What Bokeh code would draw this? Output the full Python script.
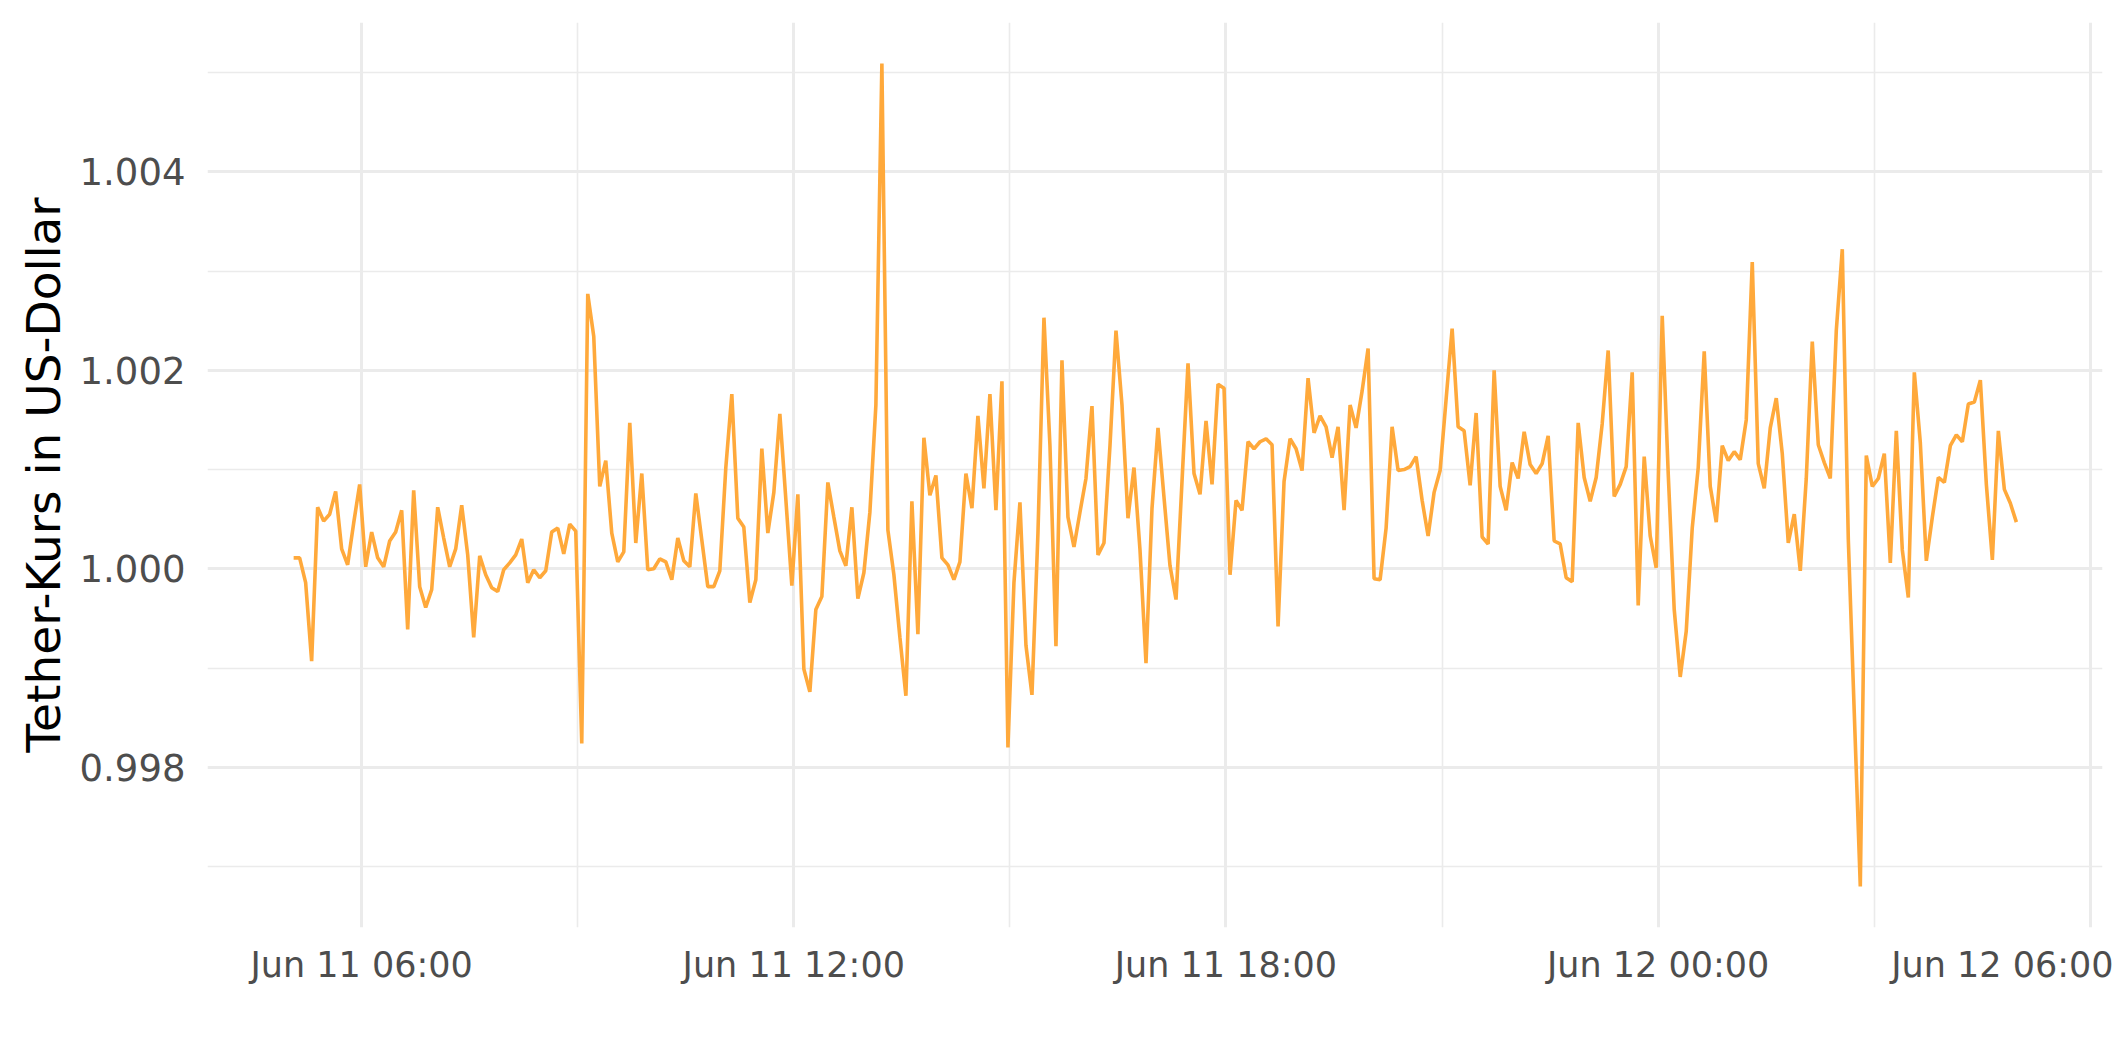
import pandas as pd
from bokeh.plotting import figure
from bokeh.models import Range1d, FixedTicker, DatetimeTickFormatter, PrintfTickFormatter
from bokeh.embed import file_html
from bokeh.resources import INLINE

# ---- data (5-minute Tether price in USD) ----
start_time = "2021-06-11 05:03:24"
interval = "5min"
tether_usd = [
    1.00011, 1.00011, 0.99986, 0.99907, 1.00062, 1.00048, 1.00055, 1.00078, 1.00020, 1.00004,
    1.00046, 1.00085, 1.00002, 1.00037, 1.00011, 1.00002, 1.00028, 1.00037, 1.00059, 0.99939,
    1.00079, 0.99982, 0.99961, 0.99979, 1.00062, 1.00031, 1.00002, 1.00020, 1.00064, 1.00014,
    0.99931, 1.00013, 0.99994, 0.99981, 0.99977, 0.99999, 1.00006, 1.00014, 1.00030, 0.99986,
    0.99999, 0.99991, 0.99998, 1.00037, 1.00041, 1.00015, 1.00045, 1.00038, 0.99824, 1.00277,
    1.00234, 1.00083, 1.00109, 1.00036, 1.00007, 1.00017, 1.00147, 1.00026, 1.00096, 0.99999,
    1.00000, 1.00010, 1.00007, 0.99989, 1.00031, 1.00008, 1.00002, 1.00076, 1.00029, 0.99982,
    0.99982, 0.99998, 1.00102, 1.00176, 1.00051, 1.00042, 0.99966, 0.99989, 1.00121, 1.00036,
    1.00077, 1.00156, 1.00070, 0.99983, 1.00075, 0.99899, 0.99876, 0.99959, 0.99972, 1.00087,
    1.00052, 1.00018, 1.00003, 1.00062, 0.99970, 0.99996, 1.00057, 1.00165, 1.00509, 1.00039,
    0.99994, 0.99931, 0.99872, 1.00068, 0.99934, 1.00132, 1.00074, 1.00094, 1.00011, 1.00004,
    0.99989, 1.00007, 1.00096, 1.00061, 1.00154, 1.00081, 1.00176, 1.00059, 1.00189, 0.99820,
    0.99986, 1.00067, 0.99923, 0.99873, 1.00036, 1.00253, 1.00124, 0.99922, 1.00210, 1.00052,
    1.00022, 1.00057, 1.00091, 1.00164, 1.00014, 1.00026, 1.00124, 1.00240, 1.00165, 1.00051,
    1.00102, 1.00019, 0.99905, 1.00061, 1.00142, 1.00072, 1.00003, 0.99969, 1.00088, 1.00207,
    1.00096, 1.00075, 1.00149, 1.00085, 1.00186, 1.00182, 0.99994, 1.00069, 1.00059, 1.00128,
    1.00121, 1.00128, 1.00131, 1.00125, 0.99942, 1.00088, 1.00131, 1.00121, 1.00099, 1.00192,
    1.00137, 1.00154, 1.00143, 1.00112, 1.00143, 1.00059, 1.00165, 1.00142, 1.00179, 1.00222,
    0.99990, 0.99989, 1.00041, 1.00143, 1.00099, 1.00100, 1.00103, 1.00113, 1.00069, 1.00033,
    1.00077, 1.00099, 1.00171, 1.00242, 1.00143, 1.00139, 1.00084, 1.00157, 1.00032, 1.00025,
    1.00200, 1.00083, 1.00059, 1.00107, 1.00091, 1.00138, 1.00105, 1.00096, 1.00106, 1.00134,
    1.00028, 1.00025, 0.99991, 0.99987, 1.00147, 1.00092, 1.00068, 1.00092, 1.00146, 1.00220,
    1.00073, 1.00085, 1.00103, 1.00198, 0.99963, 1.00113, 1.00033, 1.00001, 1.00255, 1.00096,
    0.99959, 0.99891, 0.99937, 1.00041, 1.00102, 1.00219, 1.00083, 1.00047, 1.00124, 1.00109,
    1.00118, 1.00110, 1.00150, 1.00309, 1.00106, 1.00081, 1.00142, 1.00172, 1.00116, 1.00026,
    1.00055, 0.99998, 1.00091, 1.00229, 1.00125, 1.00107, 1.00091, 1.00240, 1.00322, 1.00030,
    0.99854, 0.99680, 1.00114, 1.00083, 1.00091, 1.00116, 1.00006, 1.00139, 1.00019, 0.99971,
    1.00198, 1.00127, 1.00008, 1.00052, 1.00092, 1.00087, 1.00124, 1.00135, 1.00128, 1.00166,
    1.00168, 1.00190, 1.00085, 1.00009, 1.00139, 1.00080, 1.00066, 1.00047,
]
y_major_ticks = [0.998, 1.000, 1.002, 1.004]
y_minor_ticks = [0.997, 0.999, 1.001, 1.003, 1.005]
x_major_tick_times = ["2021-06-11 06:00", "2021-06-11 12:00", "2021-06-11 18:00",
                      "2021-06-12 00:00", "2021-06-12 06:00"]
x_minor_tick_times = ["2021-06-11 09:00", "2021-06-11 15:00", "2021-06-11 21:00",
                      "2021-06-12 03:00"]
y_title = "Tether-Kurs in US-Dollar"

times = pd.date_range(start=start_time, periods=len(tether_usd), freq=interval)


def to_ms(ts):
    return pd.Timestamp(ts).timestamp() * 1000.0


t0, t1 = to_ms(times[0]), to_ms(times[-1])
tpad = (t1 - t0) * 0.05
ymin, ymax = min(tether_usd), max(tether_usd)
ypad = (ymax - ymin) * 0.05

p = figure(width=2113, height=1053, x_axis_type="datetime",
           output_backend="svg", toolbar_location=None,
           x_range=Range1d(t0 - tpad, t1 + tpad),
           y_range=Range1d(ymin - ypad, ymax + ypad),
           min_border_left=207, min_border_right=11,
           min_border_top=22, min_border_bottom=126)
p.outline_line_color = None
p.background_fill_color = "white"
p.border_fill_color = "white"

p.line(times, tether_usd, line_color="#FFA93B", line_width=3.6)

grid_col = "#EBEBEB"
p.xaxis.ticker = FixedTicker(ticks=[to_ms(t) for t in x_major_tick_times],
                             minor_ticks=[to_ms(t) for t in x_minor_tick_times])
p.yaxis.ticker = FixedTicker(ticks=y_major_ticks, minor_ticks=y_minor_ticks)
p.xaxis.formatter = DatetimeTickFormatter(hours="%b %d %H:%M", days="%b %d %H:%M",
                                          hourmin="%b %d %H:%M", months="%b %d %H:%M",
                                          minutes="%b %d %H:%M")
p.yaxis.formatter = PrintfTickFormatter(format="%.3f")

for g in (p.xgrid, p.ygrid):
    g.grid_line_color = grid_col
    g.grid_line_width = 3
    g.minor_grid_line_color = grid_col
    g.minor_grid_line_width = 1.6

for ax in (p.xaxis, p.yaxis):
    ax.axis_line_color = None
    ax.major_tick_line_color = None
    ax.minor_tick_line_color = None
    ax.major_label_text_font = "DejaVu Sans"
    ax.major_label_text_color = "#4D4D4D"

p.xaxis.major_label_text_font_size = "35px"
p.yaxis.major_label_text_font_size = "37px"
p.xaxis.major_label_standoff = 11
p.yaxis.major_label_standoff = 16
p.yaxis.axis_label = y_title
p.yaxis.axis_label_text_font = "DejaVu Sans"
p.yaxis.axis_label_text_font_size = "47px"
p.yaxis.axis_label_text_font_style = "normal"
p.yaxis.axis_label_text_color = "black"
p.yaxis.axis_label_standoff = 6

open("out.html", "w").write(file_html(p, INLINE))
